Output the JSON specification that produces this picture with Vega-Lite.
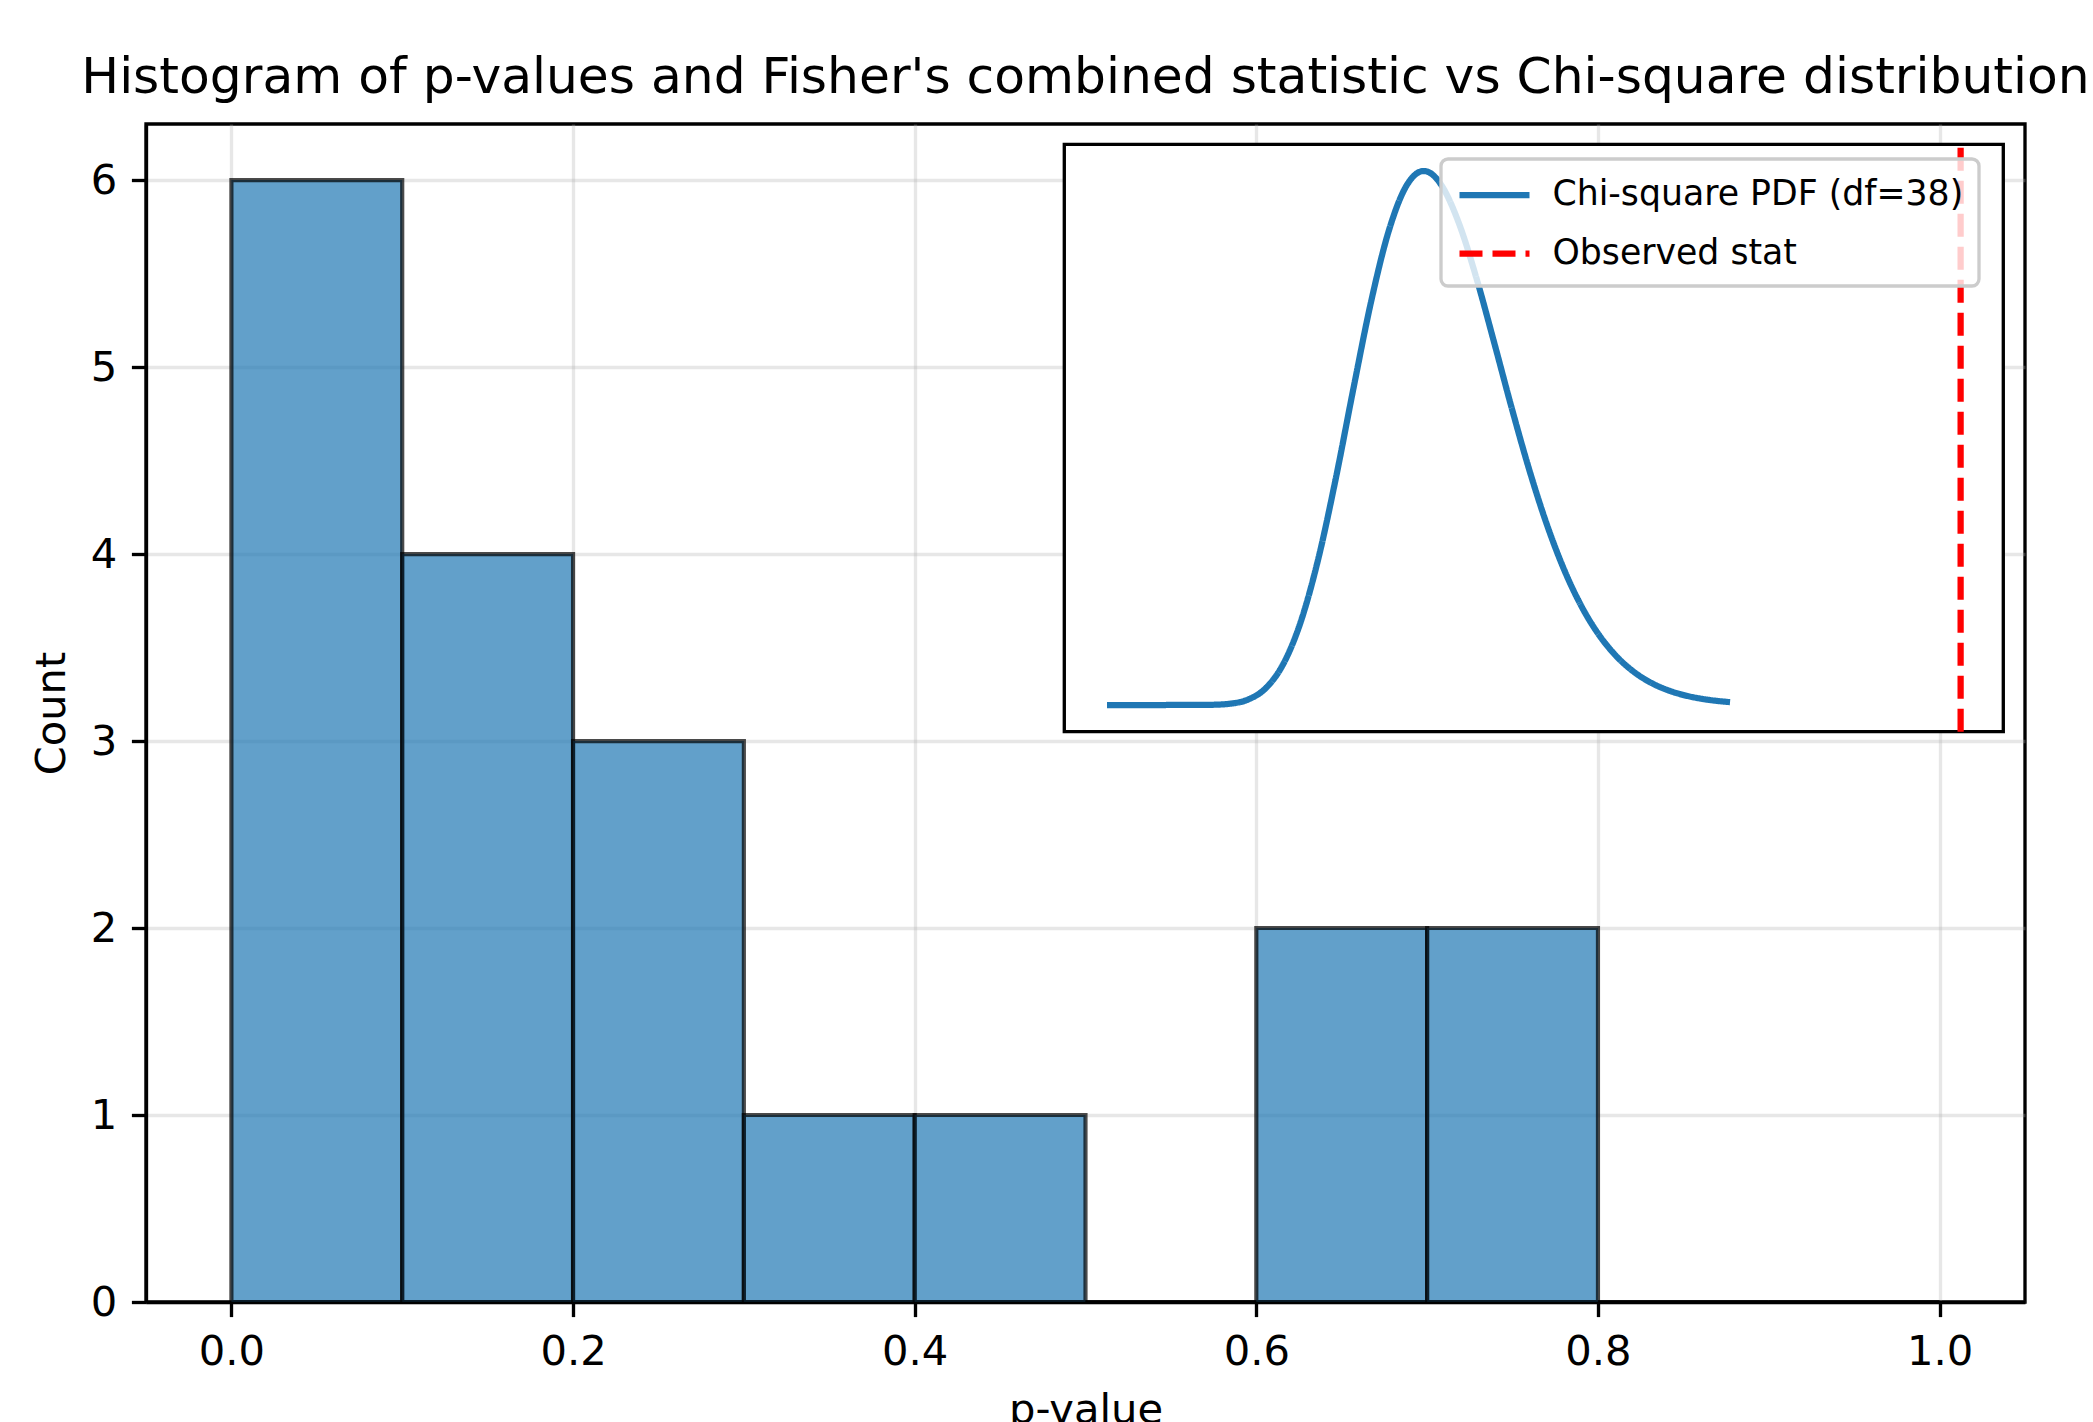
{
  "$schema": "https://vega.github.io/schema/vega-lite/v6.json",
  "width": 1879,
  "height": 1178,
  "autosize": {"type": "none"},
  "padding": {"left": 146, "top": 124, "right": 68, "bottom": 120},
  "background": "white",
  "title": {
    "text": "Histogram of p-values and Fisher's combined statistic vs Chi-square distribution",
    "fontSize": 50.3,
    "fontWeight": "normal",
    "font": "DejaVu Sans",
    "color": "black",
    "anchor": "middle",
    "frame": "group",
    "offset": -19,
    "baseline": "alphabetic"
  },
  "datasets": {
    "hist": [
      {"bin_start": 0.0, "bin_end": 0.1, "count": 6},
      {"bin_start": 0.1, "bin_end": 0.2, "count": 4},
      {"bin_start": 0.2, "bin_end": 0.3, "count": 3},
      {"bin_start": 0.3, "bin_end": 0.4, "count": 1},
      {"bin_start": 0.4, "bin_end": 0.5, "count": 1},
      {"bin_start": 0.5, "bin_end": 0.6, "count": 0},
      {"bin_start": 0.6, "bin_end": 0.7, "count": 2},
      {"bin_start": 0.7, "bin_end": 0.8, "count": 2},
      {"bin_start": 0.8, "bin_end": 0.9, "count": 0},
      {"bin_start": 0.9, "bin_end": 1.0, "count": 0}
    ],
    "frame": [
      {"x0": -4.85, "x1": 101.85, "y0": -0.00234, "y1": 0.04914}
    ],
    "chi": [
      {"chi2": 0, "pdf": 0, "series": "Chi-square PDF (df=38)"},
      {"chi2": 2, "pdf": 0, "series": "Chi-square PDF (df=38)"},
      {"chi2": 4, "pdf": 0, "series": "Chi-square PDF (df=38)"},
      {"chi2": 6, "pdf": 0, "series": "Chi-square PDF (df=38)"},
      {"chi2": 8, "pdf": 0.0000001, "series": "Chi-square PDF (df=38)"},
      {"chi2": 10, "pdf": 0.000002, "series": "Chi-square PDF (df=38)"},
      {"chi2": 12, "pdf": 0.0000196, "series": "Chi-square PDF (df=38)"},
      {"chi2": 14, "pdf": 0.000116, "series": "Chi-square PDF (df=38)"},
      {"chi2": 16, "pdf": 0.000472, "series": "Chi-square PDF (df=38)"},
      {"chi2": 18, "pdf": 0.001447, "series": "Chi-square PDF (df=38)"},
      {"chi2": 20, "pdf": 0.003546, "series": "Chi-square PDF (df=38)"},
      {"chi2": 22, "pdf": 0.007253, "series": "Chi-square PDF (df=38)"},
      {"chi2": 24, "pdf": 0.012775, "series": "Chi-square PDF (df=38)"},
      {"chi2": 26, "pdf": 0.019851, "series": "Chi-square PDF (df=38)"},
      {"chi2": 28, "pdf": 0.027722, "series": "Chi-square PDF (df=38)"},
      {"chi2": 30, "pdf": 0.03531, "series": "Chi-square PDF (df=38)"},
      {"chi2": 32, "pdf": 0.041503, "series": "Chi-square PDF (df=38)"},
      {"chi2": 34, "pdf": 0.04547, "series": "Chi-square PDF (df=38)"},
      {"chi2": 35, "pdf": 0.046471, "series": "Chi-square PDF (df=38)"},
      {"chi2": 36, "pdf": 0.0468, "series": "Chi-square PDF (df=38)"},
      {"chi2": 37, "pdf": 0.04648, "series": "Chi-square PDF (df=38)"},
      {"chi2": 38, "pdf": 0.04556, "series": "Chi-square PDF (df=38)"},
      {"chi2": 40, "pdf": 0.0422, "series": "Chi-square PDF (df=38)"},
      {"chi2": 42, "pdf": 0.03736, "series": "Chi-square PDF (df=38)"},
      {"chi2": 44, "pdf": 0.031754, "series": "Chi-square PDF (df=38)"},
      {"chi2": 46, "pdf": 0.025999, "series": "Chi-square PDF (df=38)"},
      {"chi2": 48, "pdf": 0.020576, "series": "Chi-square PDF (df=38)"},
      {"chi2": 50, "pdf": 0.015783, "series": "Chi-square PDF (df=38)"},
      {"chi2": 52, "pdf": 0.011763, "series": "Chi-square PDF (df=38)"},
      {"chi2": 54, "pdf": 0.008535, "series": "Chi-square PDF (df=38)"},
      {"chi2": 56, "pdf": 0.006042, "series": "Chi-square PDF (df=38)"},
      {"chi2": 58, "pdf": 0.004181, "series": "Chi-square PDF (df=38)"},
      {"chi2": 60, "pdf": 0.002831, "series": "Chi-square PDF (df=38)"},
      {"chi2": 62, "pdf": 0.001879, "series": "Chi-square PDF (df=38)"},
      {"chi2": 64, "pdf": 0.0012245, "series": "Chi-square PDF (df=38)"},
      {"chi2": 66, "pdf": 0.0007838, "series": "Chi-square PDF (df=38)"},
      {"chi2": 68, "pdf": 0.0004934, "series": "Chi-square PDF (df=38)"},
      {"chi2": 70, "pdf": 0.0003059, "series": "Chi-square PDF (df=38)"},
      {"chi2": 70.8, "pdf": 0.0002516, "series": "Chi-square PDF (df=38)"}
    ],
    "stat": [
      {"stat": 97, "series": "Observed stat"}
    ]
  },
  "layer": [
    {
      "data": {"name": "hist"},
      "mark": {"type": "rect", "fill": "#1f77b4", "fillOpacity": 0.7, "stroke": "black", "strokeOpacity": 0.7, "strokeWidth": 4.17},
      "encoding": {
        "x": {
          "field": "bin_start", "type": "quantitative",
          "scale": {"domain": [-0.05, 1.05], "nice": false, "zero": false},
          "axis": {"values": [0, 0.2, 0.4, 0.6, 0.8, 1.0], "format": ".1f", "title": "p-value", "titlePadding": 16.7, "labelFlush": false, "labelOverlap": false}
        },
        "x2": {"field": "bin_end"},
        "y": {
          "field": "count", "type": "quantitative",
          "scale": {"domain": [0, 6.3], "nice": false, "zero": true},
          "axis": {"values": [0, 1, 2, 3, 4, 5, 6], "format": "d", "title": "Count", "titlePadding": 16.7, "labelFlush": false, "labelOverlap": false}
        },
        "y2": {"datum": 0}
      }
    },
    {
      "layer": [
        {
          "data": {"name": "frame"},
          "mark": {"type": "rect", "fill": "white", "stroke": "black", "strokeWidth": 3.33},
          "encoding": {
            "x": {"field": "x0", "type": "quantitative", "scale": {"domain": [-4.85, 101.85], "range": [918.3, 1857.3], "nice": false, "zero": false}, "axis": null},
            "x2": {"field": "x1"},
            "y": {"field": "y0", "type": "quantitative", "scale": {"domain": [-0.00234, 0.04914], "range": [607.7, 20.3], "nice": false, "zero": false}, "axis": null},
            "y2": {"field": "y1"}
          }
        },
        {
          "data": {"name": "chi"},
          "mark": {"type": "line", "strokeWidth": 6.25, "interpolate": "monotone"},
          "encoding": {
            "x": {"field": "chi2", "type": "quantitative", "scale": {"domain": [-4.85, 101.85], "range": [918.3, 1857.3], "nice": false, "zero": false}, "axis": null},
            "y": {"field": "pdf", "type": "quantitative", "scale": {"domain": [-0.00234, 0.04914], "range": [607.7, 20.3], "nice": false, "zero": false}, "axis": null},
            "color": {
              "field": "series", "type": "nominal",
              "scale": {"domain": ["Chi-square PDF (df=38)", "Observed stat"], "range": ["#1f77b4", "#ff0000"]},
              "legend": {"title": null, "orient": "none", "legendX": 1295, "legendY": 35}
            },
            "strokeDash": {
              "field": "series", "type": "nominal",
              "scale": {"domain": ["Chi-square PDF (df=38)", "Observed stat"], "range": [[1, 0], [23, 10]]},
              "legend": {"title": null, "orient": "none", "legendX": 1295, "legendY": 35}
            }
          }
        },
        {
          "data": {"name": "stat"},
          "mark": {"type": "rule", "strokeWidth": 6.25},
          "encoding": {
            "x": {"field": "stat", "type": "quantitative", "scale": {"domain": [-4.85, 101.85], "range": [918.3, 1857.3], "nice": false, "zero": false}, "axis": null},
            "y": {"datum": -0.00234, "type": "quantitative", "scale": {"domain": [-0.00234, 0.04914], "range": [607.7, 20.3], "nice": false, "zero": false}, "axis": null},
            "y2": {"datum": 0.04914},
            "color": {
              "field": "series", "type": "nominal",
              "scale": {"domain": ["Chi-square PDF (df=38)", "Observed stat"], "range": ["#1f77b4", "#ff0000"]},
              "legend": {"title": null, "orient": "none", "legendX": 1295, "legendY": 35}
            },
            "strokeDash": {
              "field": "series", "type": "nominal",
              "scale": {"domain": ["Chi-square PDF (df=38)", "Observed stat"], "range": [[1, 0], [23, 10]]},
              "legend": {"title": null, "orient": "none", "legendX": 1295, "legendY": 35}
            }
          }
        }
      ]
    }
  ],
  "resolve": {"scale": {"x": "independent", "y": "independent"}},
  "config": {
    "font": "DejaVu Sans",
    "view": {"stroke": "black", "strokeWidth": 3.33},
    "axis": {
      "domainColor": "black", "domainWidth": 3.33,
      "tickColor": "black", "tickWidth": 3.33, "tickSize": 14.6,
      "labelFont": "DejaVu Sans", "labelFontSize": 41.67, "labelColor": "black", "labelPadding": 14.6,
      "titleFont": "DejaVu Sans", "titleFontSize": 41.67, "titleFontWeight": "normal", "titleColor": "black",
      "gridColor": "#b0b0b0", "gridOpacity": 0.3, "gridWidth": 3.33
    },
    "legend": {
      "symbolType": "M-2,0H2",
      "symbolSize": 1225,
      "symbolOffset": 17.5,
      "symbolStrokeWidth": 6.25,
      "labelFont": "DejaVu Sans",
      "labelFontSize": 34.7,
      "labelColor": "black",
      "labelOffset": 37,
      "labelLimit": 0,
      "rowPadding": 20.5,
      "padding": 15,
      "fillColor": "rgba(255,255,255,0.8)",
      "strokeColor": "#cccccc",
      "strokeWidth": 3.33,
      "cornerRadius": 7
    }
  }
}
